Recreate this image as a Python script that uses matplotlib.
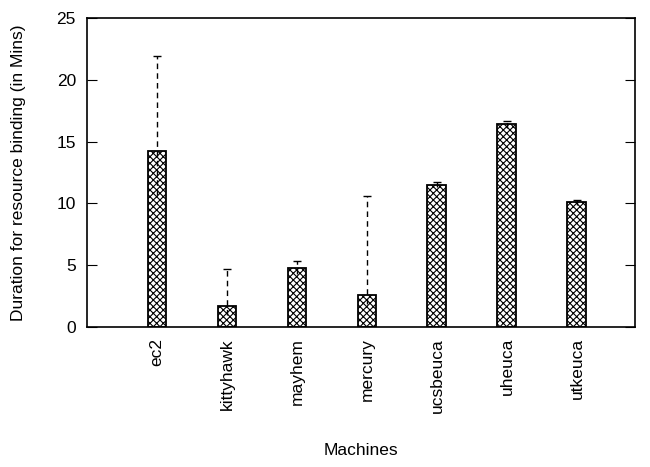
import numpy as np
import matplotlib
matplotlib.use("Agg")
import matplotlib.pyplot as plt

plt.rcParams['font.family'] = ['Liberation Sans', 'DejaVu Sans']
plt.rcParams['hatch.linewidth'] = 0.8

# data
machines = ['ec2', 'kittyhawk', 'mayhem', 'mercury', 'ucsbeuca', 'uheuca', 'utkeuca']
means = [14.2, 1.7, 4.8, 2.6, 11.5, 16.4, 10.1]
err_low = [10.7, 1.0, 4.3, 1.9, 11.3, 16.1, 9.9]
err_high = [21.9, 4.7, 5.3, 10.6, 11.7, 16.7, 10.3]

fs = 12.5

fig = plt.figure(figsize=(6.5, 4.67), dpi=100)
ax = fig.add_axes([87 / 650, 1 - 327 / 467, (635 - 87) / 650, (327 - 18) / 467])

x = np.arange(len(machines))
ax.bar(x, means, width=0.27, color='white', edgecolor='black',
       hatch='xxxxx', linewidth=1.3, zorder=2)

# dashed error bars with a cap on top
ax.vlines(x, err_low, err_high, colors='black', linestyles=(0, (4, 3)),
          linewidth=1.0, zorder=3)
ax.plot(x, err_high, ls='none', marker='_', ms=6, mew=1.0, color='black', zorder=3)

ax.set_xlim(-1, 6.83)
ax.set_ylim(0, 25)
ax.set_yticks([0, 5, 10, 15, 20, 25])
ax.set_xticks(x)
ax.set_xticklabels(machines, rotation=90, fontsize=fs)
ax.tick_params(axis='y', direction='in', length=7, right=True, labelsize=fs, width=0.8, pad=8)
ax.tick_params(axis='x', length=0, pad=8)
for s in ax.spines.values():
    s.set_linewidth(1.2)

ax.set_ylabel('Duration for resource binding (in Mins)', fontsize=fs, labelpad=22)
ax.set_xlabel('Machines', fontsize=fs, labelpad=22)

fig.savefig('out.png', dpi=100)
